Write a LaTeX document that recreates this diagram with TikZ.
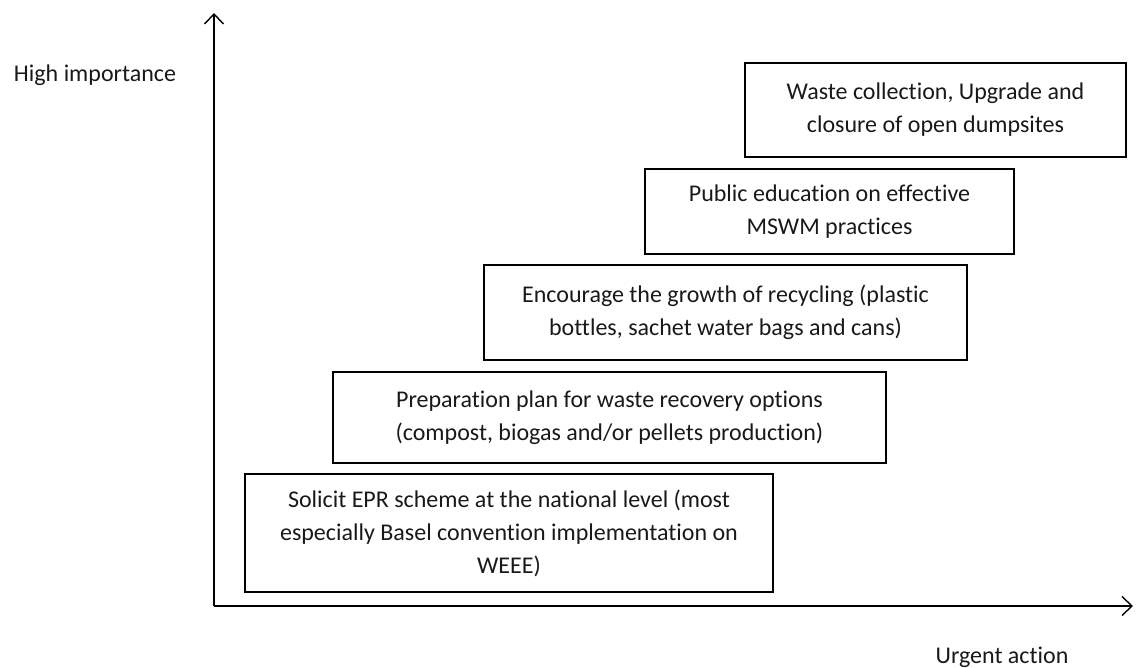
\documentclass[tikz,border=0pt]{standalone}
\usepackage{fontspec}
\setmainfont{Carlito}[Ligatures={NoCommon}]
\usetikzlibrary{arrows.meta}
\begin{document}
\begin{tikzpicture}[x=1pt,y=-1pt,
  every node/.style={font=\fontsize{24}{33}\selectfont, text=black!90},
  stepbox/.style={draw=black, line width=2pt, align=center, inner sep=0pt},
  axis/.style={line width=1.4pt, -{Straight Barb[length=10pt,width=19pt,line width=1.4pt]}}]
  \useasboundingbox (0,0) rectangle (1136,668);

  % axes
  \coordinate (O) at (214,606);
  \coordinate (ytop) at (214,13);
  \coordinate (xend) at (1133,606);
  \draw[axis] (O) -- (ytop);
  \draw[axis] (O) -- (xend);

  \node (ylab) at (95,75) {High importance};
  \node (xlab) at (1002,657) {Urgent action};

  % actions, from most to least urgent
  \node[stepbox, minimum width=381pt, minimum height=94pt] (s1) at (935.5,110)
    {Waste collection, Upgrade and\\closure of open dumpsites};
  \node[stepbox, minimum width=369pt, minimum height=85pt] (s2) at (829.5,211.5)
    {Public education on effective\\MSWM practices};
  \node[stepbox, minimum width=483pt, minimum height=95pt] (s3) at (725.5,312.5)
    {Encourage the growth of recycling (plastic\\bottles, sachet water bags and cans)};
  \node[stepbox, minimum width=553pt, minimum height=91pt] (s4) at (609.5,417.5)
    {Preparation plan for waste recovery options\\(compost, biogas and/or pellets production)};
  \node[stepbox, minimum width=528pt, minimum height=118pt] (s5) at (509,533)
    {Solicit EPR scheme at the national level (most\\especially Basel convention implementation on\\WEEE)};
\end{tikzpicture}
\end{document}
